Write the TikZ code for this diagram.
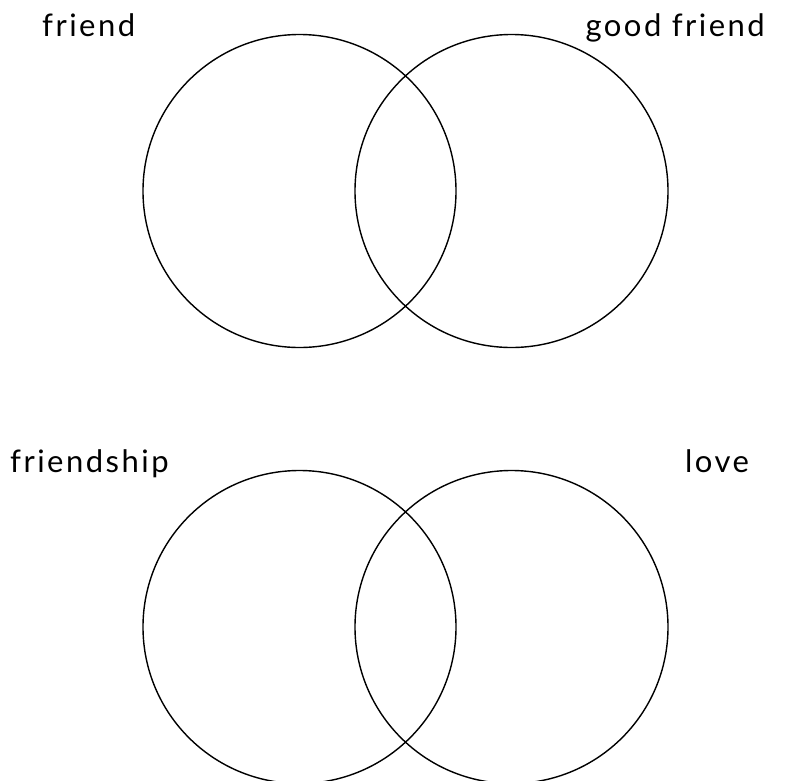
\documentclass[tikz,border=0pt]{standalone}
\usepackage{fontspec}
\setmainfont{Lato}
\newfontfamily\vnfont[LetterSpace=8]{Lato}
\usepackage{tikz}
\tikzset{
  vnring/.style={circle, draw=black, line width=1.4pt, minimum size=313pt, inner sep=0pt},
  vnlabel/.style={font=\vnfont\fontsize{31}{37}\selectfont, inner sep=0pt},
}

\begin{document}
\begin{tikzpicture}[x=1pt, y=-1pt]
\useasboundingbox (0,0) rectangle (812,780);
\node[vnring] (friendset) at (299.5,191) {};
\node[vnring] (goodset) at (511.5,191) {};
\node[vnring] (shipset) at (299.5,627) {};
\node[vnring] (loveset) at (511.5,627) {};
\node[vnlabel, anchor=base west] (friendlab) at (42,36) {friend};
\node[vnlabel, anchor=base east] (goodlab) at (765,36) {good friend};
\node[vnlabel, anchor=base west] (shiplab) at (10,472) {friendship};
\node[vnlabel, anchor=base west] (lovelab) at (685,472) {love};
\end{tikzpicture}
\end{document}
